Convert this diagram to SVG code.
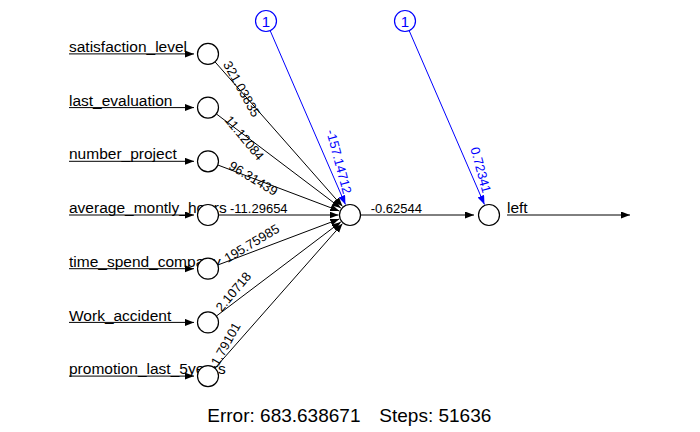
<svg xmlns="http://www.w3.org/2000/svg" width="700" height="432" viewBox="0 0 700 432">
  <style>
    .lbl { font-family: "Liberation Sans", Arial, sans-serif; font-size: 15.5px; fill: #000; }
    .w { font-family: "Liberation Sans", Arial, sans-serif; font-size: 13px; fill: #000; text-anchor: middle; dominant-baseline: central; }
    .wb { fill: #0000ff; }
    .node { fill: #fff; stroke: #000; stroke-width: 1.2; }
    .bias { fill: #fff; stroke: #0000ff; stroke-width: 1.2; }
    .biastxt { font-family: "Liberation Sans", Arial, sans-serif; font-size: 15px; fill: #0000ff; text-anchor: middle; }
    .edge { stroke: #000; stroke-width: 1; fill: none; marker-end: url(#ah); }
    .bedge { stroke: #0000ff; stroke-width: 1; fill: none; marker-end: url(#ahb); }
    .info { font-family: "Liberation Sans", Arial, sans-serif; font-size: 19px; fill: #000; }
  </style>
  <defs>
    <marker id="ah" markerUnits="userSpaceOnUse" markerWidth="10" markerHeight="8" refX="9" refY="3.5" orient="auto">
      <path d="M0,0 L9,3.5 L0,7 z" fill="#000"/>
    </marker>
    <marker id="ahb" markerUnits="userSpaceOnUse" markerWidth="10" markerHeight="8" refX="9" refY="3.5" orient="auto">
      <path d="M0,0 L9,3.5 L0,7 z" fill="#0000ff"/>
    </marker>
  </defs>
  <rect width="700" height="432" fill="#fff"/>

  <!-- connectors -->
  <g id="connectors">
    <!-- input feeds -->
    <line class="edge" x1="69" y1="53.9" x2="194" y2="53.9"/>
    <line class="edge" x1="69" y1="107.6" x2="194" y2="107.6"/>
    <line class="edge" x1="69" y1="161.3" x2="194" y2="161.3"/>
    <line class="edge" x1="69" y1="215" x2="194" y2="215"/>
    <line class="edge" x1="69" y1="268.7" x2="194" y2="268.7"/>
    <line class="edge" x1="69" y1="322.4" x2="194" y2="322.4"/>
    <line class="edge" x1="69" y1="376.1" x2="194" y2="376.1"/>
    <!-- input to hidden -->
    <line class="edge" x1="214.94" y1="61.78" x2="342.4" y2="206.37"/>
    <line class="edge" x1="216.37" y1="113.93" x2="340.83" y2="208.06"/>
    <line class="edge" x1="217.82" y1="165.01" x2="339.24" y2="210.93"/>
    <line class="edge" x1="218.5" y1="215" x2="338.5" y2="215"/>
    <line class="edge" x1="217.82" y1="264.99" x2="339.24" y2="219.07"/>
    <line class="edge" x1="216.37" y1="316.07" x2="340.83" y2="221.94"/>
    <line class="edge" x1="214.94" y1="368.22" x2="342.4" y2="223.63"/>
    <!-- bias edges -->
    <line class="bedge" x1="270.17" y1="30.64" x2="345.43" y2="204.45"/>
    <line class="bedge" x1="409.17" y1="30.64" x2="484.43" y2="204.45"/>
    <!-- hidden to output, output feed -->
    <line class="edge" x1="360.5" y1="215" x2="474" y2="215"/>
    <line class="edge" x1="507" y1="215" x2="630" y2="215"/>
  </g>

  <!-- input nodes -->
  <g id="in-satisfaction_level">
    <text class="lbl" x="69" y="52">satisfaction_level</text>
    <circle class="node" cx="208" cy="53.9" r="10.5"/>
  </g>
  <g id="in-last_evaluation">
    <text class="lbl" x="69" y="105.7">last_evaluation</text>
    <circle class="node" cx="208" cy="107.6" r="10.5"/>
  </g>
  <g id="in-number_project">
    <text class="lbl" x="69" y="159.4">number_project</text>
    <circle class="node" cx="208" cy="161.3" r="10.5"/>
  </g>
  <g id="in-average_montly_hours">
    <text class="lbl" x="69" y="213.1">average_montly_hours</text>
    <circle class="node" cx="208" cy="215" r="10.5"/>
  </g>
  <g id="in-time_spend_company">
    <text class="lbl" x="69" y="266.8">time_spend_company</text>
    <circle class="node" cx="208" cy="268.7" r="10.5"/>
  </g>
  <g id="in-Work_accident">
    <text class="lbl" x="69" y="320.5">Work_accident</text>
    <circle class="node" cx="208" cy="322.4" r="10.5"/>
  </g>
  <g id="in-promotion_last_5years">
    <text class="lbl" x="69" y="374.2">promotion_last_5years</text>
    <circle class="node" cx="208" cy="376.1" r="10.5"/>
  </g>

  <!-- bias nodes -->
  <g id="bias-hidden">
    <circle class="bias" cx="266" cy="21" r="10.5"/>
    <text class="biastxt" x="266" y="26.5">1</text>
  </g>
  <g id="bias-output">
    <circle class="bias" cx="405" cy="21" r="10.5"/>
    <text class="biastxt" x="405" y="26.5">1</text>
  </g>

  <!-- hidden node -->
  <g id="hidden-1">
    <circle class="node" cx="350" cy="215" r="10.5"/>
  </g>

  <!-- output node -->
  <g id="out-left">
    <circle class="node" cx="489" cy="215" r="10.5"/>
    <text class="lbl" x="507" y="213.3">left</text>
  </g>

  <!-- weights -->
  <g id="weights">
    <text class="w" transform="translate(241.7,89) rotate(61)">321.03835</text>
    <text class="w" transform="translate(244.5,138) rotate(50.5)">11.12084</text>
    <text class="w" transform="translate(253.3,178.3) rotate(31)">96.31439</text>
    <text class="w" x="230" y="213.3" style="text-anchor:start;dominant-baseline:auto">-11.29654</text>
    <text class="w" transform="translate(251.7,243.3) rotate(-31)">195.75985</text>
    <text class="w" transform="translate(233.3,291.7) rotate(-50)">2.10718</text>
    <text class="w" transform="translate(225.8,344) rotate(-61)">1.79101</text>
    <text class="w wb" transform="translate(339,161.7) rotate(75)">-157.14712</text>
    <text class="w wb" transform="translate(480.8,170) rotate(75)">0.72341</text>
    <text class="w" x="370.7" y="213.3" style="text-anchor:start;dominant-baseline:auto">-0.62544</text>
  </g>

  <!-- fit summary -->
  <text class="info" x="207.3" y="421.7">Error: 683.638671</text>
  <text class="info" x="379.3" y="421.7">Steps: 51636</text>
</svg>
